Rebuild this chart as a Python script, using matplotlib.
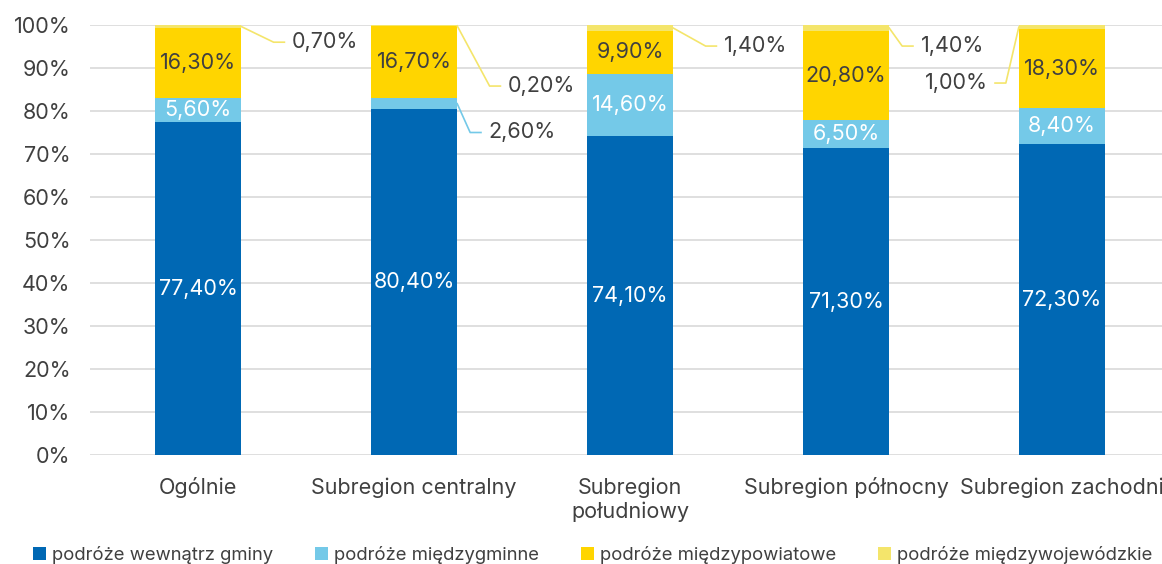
import numpy as np
import matplotlib.pyplot as plt
from matplotlib.ticker import PercentFormatter

plt.rcParams['font.family'] = ['Inter', 'DejaVu Sans']

categories = ['Ogólnie', 'Subregion centralny', 'Subregion\npołudniowy',
              'Subregion północny', 'Subregion zachodni']
series_names = ['podróże wewnątrz gminy', 'podróże międzygminne',
                'podróże międzypowiatowe', 'podróże międzywojewódzkie']
wewnatrz = [77.4, 80.4, 74.1, 71.3, 72.3]
miedzygminne = [5.6, 2.6, 14.6, 6.5, 8.4]
miedzypowiatowe = [16.3, 16.7, 9.9, 20.8, 18.3]
miedzywojewodzkie = [0.7, 0.2, 1.4, 1.4, 1.0]

colors = ['#0068B4', '#74C9E8', '#FFD500', '#F4E56B']
label_colors = ['white', 'white', '#404040', '#404040']
text_col = '#404040'
fs = 15.5

# labels placed outside with leader lines: (series, category) -> (dx in slot units, y of label)
outside = {
    (1, 1): (0.35, 75.0),
    (3, 0): (0.45, 96.0),
    (3, 1): (0.45, 85.8),
    (3, 2): (0.45, 95.1),
    (3, 3): (0.35, 95.1),
    (3, 4): (-0.35, 86.5),
}

fig = plt.figure(figsize=(11.62, 5.64), dpi=100)
ax = fig.add_axes([90 / 1162, 1 - 455 / 564, 1080 / 1162, 430 / 564])

data = [wewnatrz, miedzygminne, miedzypowiatowe, miedzywojewodzkie]
x = np.arange(len(categories))
w = 0.4
bottom = np.zeros(len(categories))
for s, vals in enumerate(data):
    vals = np.array(vals)
    ax.bar(x, vals, w, bottom=bottom, color=colors[s], label=series_names[s],
           zorder=3, edgecolor='none')
    for i, v in enumerate(vals):
        lab = f'{v:.2f}'.replace('.', ',') + '%'
        mid = bottom[i] + v / 2
        if (s, i) in outside:
            dx, ly = outside[(s, i)]
            side = 1 if dx > 0 else -1
            x0 = x[i] + side * w / 2
            y0 = bottom[i] + v / 2
            xk = x0 + side * 0.06 if abs(dx) < 0.4 else x0 + side * 0.15
            xe = xk + side * 0.05
            ax.plot([x0, xk, xe], [y0, ly, ly], color=colors[s], lw=1.2,
                    zorder=4, clip_on=False)
            ax.text(xe + side * 0.035, ly, lab, ha='left' if side > 0 else 'right',
                    va='center', fontsize=fs, color=text_col)
        else:
            ax.text(x[i], mid, lab, ha='center', va='center', fontsize=fs,
                    color=label_colors[s], zorder=5)
    bottom += vals

ax.set_xlim(-0.5, len(categories) - 0.5)
ax.set_ylim(0, 100)
ax.set_yticks(np.arange(0, 101, 10))
ax.yaxis.set_major_formatter(PercentFormatter(decimals=0))
ax.set_xticks(x)
ax.set_xticklabels(categories, fontsize=fs, color=text_col, linespacing=1.2)
ax.tick_params(axis='y', labelsize=fs, labelcolor=text_col, length=0, pad=14)
ax.tick_params(axis='x', length=0, pad=16)
ax.grid(axis='y', color='#D9D9D9', lw=1.2, zorder=0)
for sp in ax.spines.values():
    sp.set_visible(False)

fig.legend(loc='lower center', bbox_to_anchor=(0.51, -0.03), ncol=4, frameon=False,
           fontsize=13.3, handlelength=0.7, handleheight=0.7, handletextpad=0.3,
           columnspacing=2.3, labelcolor=text_col)

fig.savefig('out.png', dpi=100)
